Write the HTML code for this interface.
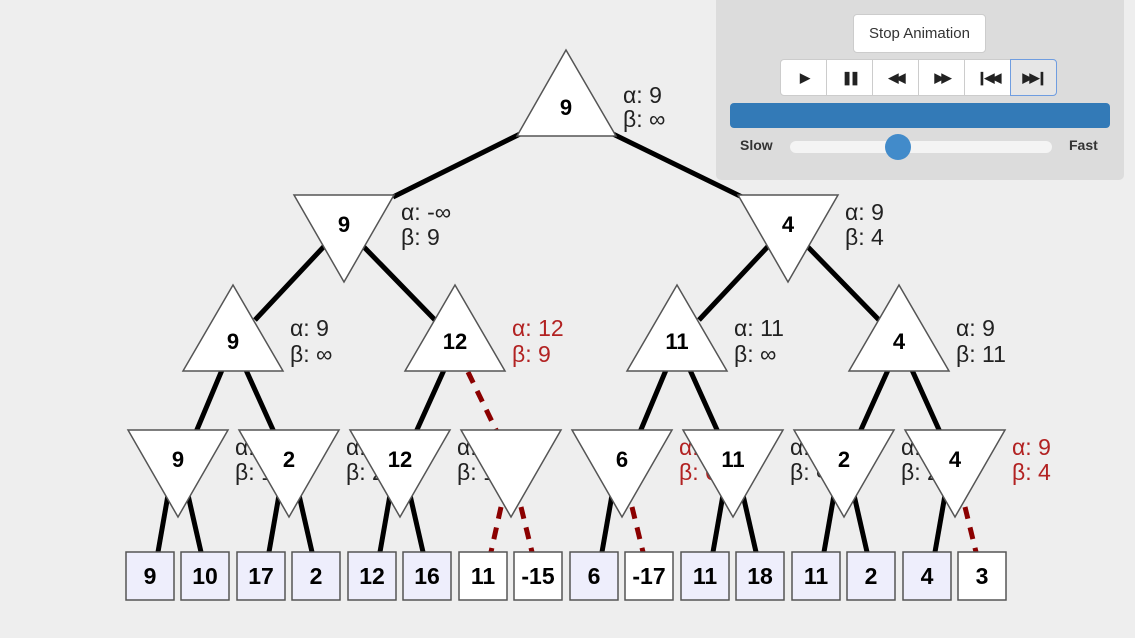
<!DOCTYPE html>
<html><head><meta charset="utf-8"><style>
body{margin:0;width:1135px;height:638px;background:#eee;overflow:hidden;font-family:"Liberation Sans",sans-serif;position:relative}
svg{position:absolute;left:0;top:0}
.panel{position:absolute;left:716px;top:0;width:408px;height:180px;background:#dcdcdc;border-radius:0 0 5px 5px}
.stop{position:absolute;left:137px;top:14px;width:131px;height:37px;background:#fff;border:1px solid #ccc;border-radius:4px;font-size:15px;color:#333;text-align:center;line-height:38px}
.grp{position:absolute;left:65px;top:59px;height:37px;display:flex}
.grp div{width:45px;height:35px;background:#fff;border:1px solid #ccc;margin-left:-1px;text-align:center;line-height:35px;font-size:13px;color:#222;letter-spacing:-3px;font-weight:bold}
.grp div:first-child{border-radius:4px 0 0 4px}
.grp div:last-child{border-radius:0 4px 4px 0;background:#e6e6e6;border-color:#6f9de0}
.bar{position:absolute;left:14px;top:103px;width:380px;height:25px;background:#337ab7;border-radius:4px}
.lbl{position:absolute;top:137px;font-size:14px;font-weight:bold;color:#333}
.track{position:absolute;left:74px;top:141px;width:262px;height:12px;background:#f4f4f4;border-radius:6px}
.knob{position:absolute;left:169px;top:134px;width:26px;height:26px;border-radius:50%;background:#428bca}
</style></head><body>
<svg width="1135" height="638" font-family="Liberation Sans, DejaVu Sans, sans-serif">
<g stroke="#000" stroke-width="5">
<line x1="520" y1="134" x2="393" y2="197"/><line x1="613" y1="134" x2="742" y2="197"/>
<line x1="330" y1="240" x2="255" y2="320"/><line x1="362" y1="245" x2="435" y2="320"/>
<line x1="774" y1="240" x2="699" y2="320"/><line x1="806" y1="245" x2="879" y2="320"/>
<line x1="222" y1="370" x2="196" y2="432"/><line x1="246" y1="370" x2="274" y2="432"/>
<line x1="444" y1="370" x2="416" y2="432"/>
<line x1="666" y1="370" x2="640" y2="432"/><line x1="690" y1="370" x2="718" y2="432"/>
<line x1="888" y1="370" x2="860" y2="432"/><line x1="912" y1="370" x2="940" y2="432"/>
<line x1="168" y1="495" x2="158" y2="552"/><line x1="188" y1="495" x2="201" y2="552"/>
<line x1="279" y1="495" x2="269" y2="552"/><line x1="299" y1="495" x2="312" y2="552"/>
<line x1="390" y1="495" x2="380" y2="552"/><line x1="410" y1="495" x2="423" y2="552"/>
<line x1="612" y1="495" x2="602" y2="552"/>
<line x1="723" y1="495" x2="713" y2="552"/><line x1="743" y1="495" x2="756" y2="552"/>
<line x1="834" y1="495" x2="824" y2="552"/><line x1="854" y1="495" x2="867" y2="552"/>
<line x1="945" y1="495" x2="935" y2="552"/>
</g>
<g stroke="#8b0000" stroke-width="5" stroke-dasharray="12,9">
<line x1="468" y1="372" x2="497" y2="432"/>
<line x1="501" y1="507" x2="491" y2="552"/><line x1="521" y1="507" x2="532" y2="552"/>
<line x1="632" y1="507" x2="643" y2="552"/>
<line x1="965" y1="507" x2="976" y2="552"/>
</g>
<g font-size="23" fill="#222">
<text x="623" y="103">α: 9</text><text x="623" y="127">β: ∞</text>
<text x="401" y="220">α: -∞</text><text x="401" y="245">β: 9</text>
<text x="845" y="220">α: 9</text><text x="845" y="245">β: 4</text>
<text x="290" y="336">α: 9</text><text x="290" y="362">β: ∞</text>
<text x="512" y="336" fill="#b22222">α: 12</text><text x="512" y="362" fill="#b22222">β: 9</text>
<text x="734" y="336">α: 11</text><text x="734" y="362">β: ∞</text>
<text x="956" y="336">α: 9</text><text x="956" y="362">β: 11</text>
</g>
<g stroke="#555" stroke-width="1.5" fill="#fff">
<polygon points="566,50 517,136 616,136"/>
<polygon points="294,195 394,195 344,282"/><polygon points="738,195 838,195 788,282"/>
<polygon points="233,285 183,371 283,371"/><polygon points="455,285 405,371 505,371"/>
<polygon points="677,285 627,371 727,371"/><polygon points="899,285 849,371 949,371"/>
</g>
<g font-size="22" font-weight="bold" fill="#000" text-anchor="middle">
<text x="566" y="115">9</text><text x="344" y="232">9</text><text x="788" y="232">4</text>
<text x="233" y="349">9</text><text x="455" y="349">12</text><text x="677" y="349">11</text><text x="899" y="349">4</text>
</g>
<g font-size="23" stroke="#555" stroke-width="1.5">
<text x="235" y="455" fill="#222" stroke="none">α: 9</text><text x="235" y="480" fill="#222" stroke="none">β: 10</text>
<polygon points="128,430 228,430 178,517" fill="#fff"/>
<text x="346" y="455" fill="#222" stroke="none">α: 9</text><text x="346" y="480" fill="#222" stroke="none">β: 2</text>
<polygon points="239,430 339,430 289,517" fill="#fff"/>
<text x="457" y="455" fill="#222" stroke="none">α: 12</text><text x="457" y="480" fill="#222" stroke="none">β: 12</text>
<polygon points="350,430 450,430 400,517" fill="#fff"/>
<text x="679" y="455" fill="#b22222" stroke="none">α: 11</text><text x="679" y="480" fill="#b22222" stroke="none">β: 6</text>
<polygon points="461,430 561,430 511,517" fill="#fff"/>
<polygon points="572,430 672,430 622,517" fill="#fff"/>
<text x="790" y="455" fill="#222" stroke="none">α: 11</text><text x="790" y="480" fill="#222" stroke="none">β: ∞</text>
<polygon points="683,430 783,430 733,517" fill="#fff"/>
<text x="901" y="455" fill="#222" stroke="none">α: 9</text><text x="901" y="480" fill="#222" stroke="none">β: 2</text>
<polygon points="794,430 894,430 844,517" fill="#fff"/>
<polygon points="905,430 1005,430 955,517" fill="#fff"/>
<text x="1012" y="455" fill="#b22222" stroke="none">α: 9</text><text x="1012" y="480" fill="#b22222" stroke="none">β: 4</text>
</g>
<g font-size="22" font-weight="bold" fill="#000" text-anchor="middle">
<text x="178" y="467">9</text><text x="289" y="467">2</text><text x="400" y="467">12</text>
<text x="622" y="467">6</text><text x="733" y="467">11</text><text x="844" y="467">2</text><text x="955" y="467">4</text>
</g>
<g stroke="#555" stroke-width="1.5">
<rect x="126" y="552" width="48" height="48" fill="#eeeefc"/><rect x="181" y="552" width="48" height="48" fill="#eeeefc"/>
<rect x="237" y="552" width="48" height="48" fill="#eeeefc"/><rect x="292" y="552" width="48" height="48" fill="#eeeefc"/>
<rect x="348" y="552" width="48" height="48" fill="#eeeefc"/><rect x="403" y="552" width="48" height="48" fill="#eeeefc"/>
<rect x="459" y="552" width="48" height="48" fill="#fff"/><rect x="514" y="552" width="48" height="48" fill="#fff"/>
<rect x="570" y="552" width="48" height="48" fill="#eeeefc"/><rect x="625" y="552" width="48" height="48" fill="#fff"/>
<rect x="681" y="552" width="48" height="48" fill="#eeeefc"/><rect x="736" y="552" width="48" height="48" fill="#eeeefc"/>
<rect x="792" y="552" width="48" height="48" fill="#eeeefc"/><rect x="847" y="552" width="48" height="48" fill="#eeeefc"/>
<rect x="903" y="552" width="48" height="48" fill="#eeeefc"/><rect x="958" y="552" width="48" height="48" fill="#fff"/>
</g>
<g font-size="23" font-weight="bold" fill="#000" text-anchor="middle">
<text x="150" y="584">9</text><text x="205" y="584">10</text><text x="261" y="584">17</text><text x="316" y="584">2</text>
<text x="372" y="584">12</text><text x="427" y="584">16</text><text x="483" y="584">11</text><text x="538" y="584">-15</text>
<text x="594" y="584">6</text><text x="649" y="584">-17</text><text x="705" y="584">11</text><text x="760" y="584">18</text>
<text x="816" y="584">11</text><text x="871" y="584">2</text><text x="927" y="584">4</text><text x="982" y="584">3</text>
</g>
</svg>
<div class="panel">
<div class="stop">Stop Animation</div>
<div class="grp"><div>▶</div><div>❚❚</div><div>◀◀</div><div>▶▶</div><div>❙◀◀</div><div>▶▶❙</div></div>
<div class="bar"></div>
<div class="lbl" style="left:24px">Slow</div>
<div class="track"></div><div class="knob"></div>
<div class="lbl" style="left:353px">Fast</div>
</div>
</body></html>
